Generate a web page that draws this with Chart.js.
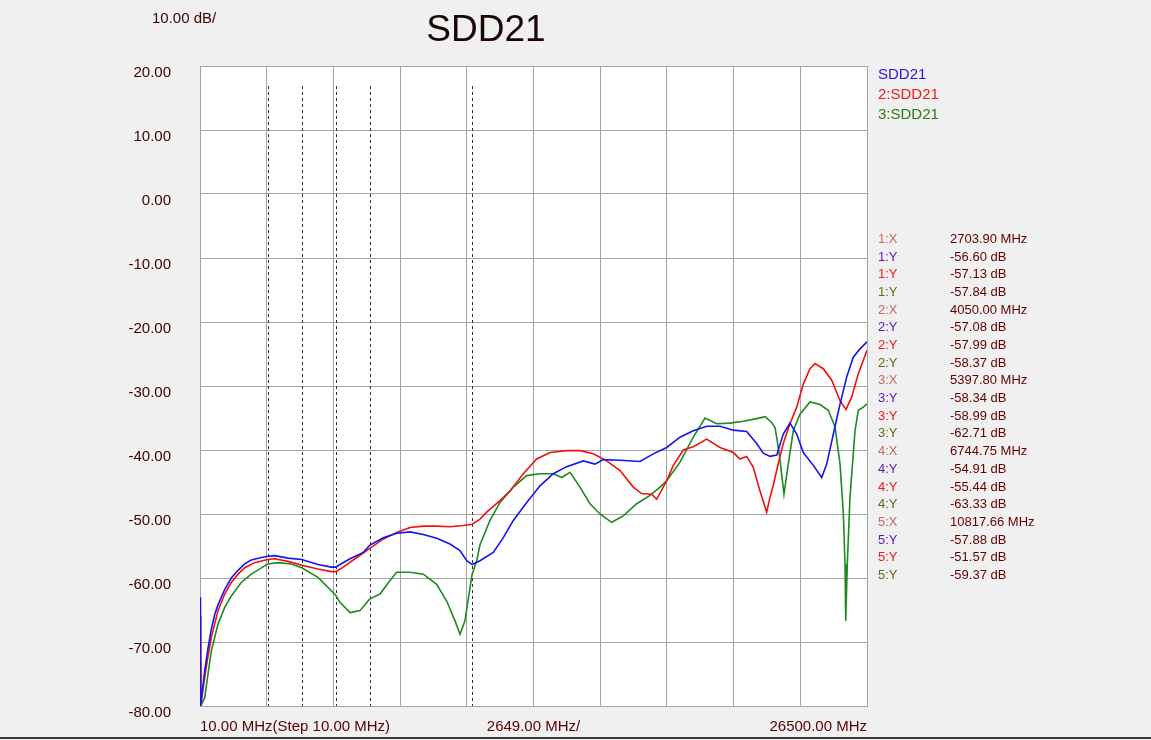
<!DOCTYPE html>
<html>
<head>
<meta charset="utf-8">
<script src="https://cdn.jsdelivr.net/npm/chart.js@4.4.1/dist/chart.umd.min.js"></script>
<style>
    body { margin: 0; background: #f0f0f0; font-family: "Liberation Sans", Arial, sans-serif; }
    #wrap { position: relative; width: 1151px; height: 740px; overflow: hidden; }
    #sddChart { position: absolute; left: 0; top: 0; }
    .txt { position: absolute; white-space: nowrap; transform: translateY(-50%); }
    #bottomLine { position: absolute; left: 0; top: 737px; width: 1151px; height: 2px; background: #3a3a3a; }
</style>
</head>
<body>
<div id="wrap">
    <canvas id="sddChart" width="1151" height="744"></canvas>
    <div class="txt" style="left:152px; top:17px; font-size:15px; color:#3c0000;">10.00 dB/</div>
    <div class="txt" style="left:486px; top:29px; font-size:37px; color:#1a0505; transform:translate(-50%,-50%);">SDD21</div>
    <div id="legend"></div>
    <div id="markerTable"></div>
    <div id="bottomLine"></div>
</div>
<script>
// x axis, MHz
const xTicks = [10, 2659, 5308, 7957, 10606, 13255, 15904, 18553, 21202, 23851, 26500];
const xTickLabels = ['10.00 MHz(Step 10.00 MHz)', '', '', '', '', '2649.00 MHz/', '', '', '', '', '26500.00 MHz'];

// SDD21 (blue)
const blueFreq = [10, 30, 197, 328, 459, 594, 725, 991, 1253, 1519, 1785, 2047, 2445, 2704, 2977, 3505, 4050, 4696, 5225, 5398,
    5570, 5967, 6496, 6745, 7290, 7822, 8350, 8878, 9411, 9939, 10336, 10602, 10818, 11130, 11658, 12056, 12453, 12985, 13513, 14041,
    14573, 15233, 15697, 16027, 16690, 17485, 18013, 18545, 19073, 19601, 20133, 20662, 21190, 21722, 22119, 22381, 22647, 22913, 23175, 23441,
    23708, 23970, 24367, 24701, 24899, 25164, 25430, 25694, 25956, 26222, 26500];
const blueDb = [-63, -80, -74.5, -71.0, -68.0, -65.7, -64.2, -61.8, -60.0, -58.8, -57.8, -57.2, -56.8, -56.6, -56.5, -56.9, -57.1, -57.9, -58.3, -58.3,
    -57.9, -57.0, -56.0, -54.9, -53.7, -53.0, -52.8, -53.2, -53.8, -54.7, -55.7, -57.3, -57.9, -57.3, -56.0, -53.7, -51.0, -48.2, -45.6, -43.7,
    -42.6, -41.7, -42.2, -41.5, -41.6, -41.8, -40.6, -39.6, -38.0, -37.0, -36.3, -36.3, -36.9, -37.1, -39.0, -40.5, -41.0, -40.8, -37.5, -35.8,
    -37.5, -40.4, -42.4, -44.3, -42.2, -37.5, -32.8, -28.6, -25.5, -24.2, -23.1];

// 2:SDD21 (red)
const redFreq = [10, 40, 197, 328, 459, 725, 991, 1253, 1519, 1785, 2180, 2704, 2977, 3505, 4050, 4696, 5225, 5398, 5701, 6233,
    6745, 7290, 7822, 8350, 8878, 9411, 9939, 10467, 10818, 11130, 11396, 11925, 12322, 12850, 13382, 13910, 14573, 15102, 15630, 16162,
    16690, 17218, 17552, 17949, 18148, 18545, 18807, 19204, 19601, 20133, 20662, 21190, 21456, 21722, 21984, 22250, 22516, 22647, 22778, 22913,
    23044, 23175, 23441, 23708, 23970, 24236, 24435, 24764, 25098, 25430, 25667, 25892, 26155, 26500];
const redDb = [-66, -80, -75.5, -72.2, -69.3, -65.1, -62.5, -60.7, -59.4, -58.4, -57.6, -57.1, -57.0, -57.4, -58.0, -58.6, -59.0, -59.0, -58.3, -56.8,
    -55.4, -53.9, -52.9, -52.1, -51.9, -51.9, -52.0, -51.8, -51.6, -50.8, -49.7, -47.9, -46.4, -43.7, -41.4, -40.4, -40.1, -40.1, -40.6, -41.7,
    -43.2, -45.8, -46.8, -46.9, -47.7, -44.8, -42.4, -40.0, -39.5, -38.3, -39.6, -40.4, -41.4, -41.0, -42.7, -46.4, -49.7, -47.4, -45.5, -43.2,
    -41.0, -39.0, -35.9, -33.3, -29.7, -27.3, -26.5, -27.3, -29.1, -32.3, -33.7, -31.7, -28.1, -24.4];

// 3:SDD21 (green)
const greenFreq = [10, 40, 197, 328, 459, 725, 991, 1253, 1650, 2047, 2580, 2704, 3108, 3636, 4050, 4696, 5225, 5398, 5570, 5967,
    6364, 6745, 7159, 7556, 7822, 8350, 8878, 9411, 9808, 10137, 10336, 10534, 10733, 10818, 10999, 11130, 11527, 11925, 12453, 12985,
    13513, 14041, 14375, 14705, 15102, 15499, 15896, 16361, 16821, 17353, 17882, 18279, 18545, 19073, 19601, 20066, 20530, 21059, 21587, 22119,
    22449, 22715, 22846, 22913, 23044, 23203, 23374, 23572, 23839, 24236, 24633, 24963, 25231, 25430, 25561, 25627, 25655, 25718, 25825, 26024,
    26155, 26353, 26500];
const greenDb = [-73, -80, -78.7, -75.0, -71.4, -67.2, -64.6, -62.8, -60.7, -59.4, -58.1, -57.8, -57.6, -57.8, -58.4, -59.9, -62.0, -62.7, -63.8, -65.4,
    -65.1, -63.3, -62.5, -60.4, -59.1, -59.1, -59.4, -61.0, -63.6, -66.7, -68.8, -66.7, -61.5, -59.4, -57.3, -54.8, -51.0, -48.2, -45.8, -44.0,
    -43.7, -43.7, -44.3, -43.5, -45.8, -48.4, -50.0, -51.3, -50.3, -48.4, -47.1, -45.8, -44.8, -41.9, -38.0, -35.0, -35.9, -35.8, -35.5, -35.1,
    -34.8, -35.7, -36.5, -38.0, -41.5, -46.9, -42.2, -37.0, -34.4, -32.5, -32.9, -33.8, -36.4, -42.2, -50.0, -57.8, -66.7, -57.8, -47.4, -37.0,
    -33.8, -33.3, -32.8];

// markers
const markerFreqs = [2703.90, 4050.00, 5397.80, 6744.75, 10817.66];
const markerBlue = [-56.60, -57.08, -58.34, -54.91, -57.88];
const markerRed = [-57.13, -57.99, -58.99, -55.44, -51.57];
const markerGreen = [-57.84, -58.37, -62.71, -63.33, -59.37];

const traceNames = ['SDD21', '2:SDD21', '3:SDD21'];
const traceColors = ['#1414f0', '#f01010', '#1e8a1e'];
const legendColors = ['#2a14e0', '#f01818', '#2e7a12'];

function toPoints(freqs, dbs) {
    return freqs.map((f, i) => ({ x: f, y: dbs[i] }));
}

// legend + marker readout on the right
function buildSideText() {
    const legend = document.getElementById('legend');
    traceNames.forEach((name, i) => {
        const d = document.createElement('div');
        d.className = 'txt';
        d.style.cssText = `left:878px; top:${73 + i * 20}px; font-size:15px; color:${legendColors[i]};`;
        d.textContent = name;
        legend.appendChild(d);
    });

    const table = document.getElementById('markerTable');
    const rows = [];
    markerFreqs.forEach((f, i) => {
        const n = i + 1;
        rows.push([`${n}:X`, '#c06a6a', `${f.toFixed(2)} MHz`]);
        rows.push([`${n}:Y`, '#5a14c8', `${markerBlue[i].toFixed(2)} dB`]);
        rows.push([`${n}:Y`, '#f01818', `${markerRed[i].toFixed(2)} dB`]);
        rows.push([`${n}:Y`, '#5e6a10', `${markerGreen[i].toFixed(2)} dB`]);
    });
    rows.forEach((r, i) => {
        const top = 238 + i * 17.68;
        const lab = document.createElement('div');
        lab.className = 'txt';
        lab.style.cssText = `left:878px; top:${top}px; font-size:13px; color:${r[1]};`;
        lab.textContent = r[0];
        const val = document.createElement('div');
        val.className = 'txt';
        val.style.cssText = `left:950px; top:${top}px; font-size:13px; color:#640000;`;
        val.textContent = r[2];
        table.appendChild(lab);
        table.appendChild(val);
    });
}

const plotBackground = {
    id: 'plotBackground',
    beforeDraw(chart) {
        const { ctx, chartArea: a } = chart;
        ctx.save();
        ctx.fillStyle = '#ffffff';
        ctx.fillRect(a.left, a.top, a.right - a.left, a.bottom - a.top);
        ctx.restore();
    }
};

const markerLines = {
    id: 'markerLines',
    beforeDatasetsDraw(chart) {
        const { ctx, chartArea: a, scales: { x } } = chart;
        ctx.save();
        ctx.strokeStyle = '#303030';
        ctx.lineWidth = 1;
        ctx.setLineDash([3, 3]);
        markerFreqs.forEach(f => {
            const px = Math.round(x.getPixelForValue(f)) + 0.5;
            ctx.beginPath();
            ctx.moveTo(px, a.top + 20);
            ctx.lineTo(px, a.bottom);
            ctx.stroke();
        });
        ctx.restore();
    }
};

function renderChart() {
    const ctx = document.getElementById('sddChart').getContext('2d');
    const series = [[blueFreq, blueDb], [redFreq, redDb], [greenFreq, greenDb]];
    new Chart(ctx, {
        type: 'line',
        data: {
            datasets: series.map((s, i) => ({
                label: traceNames[i],
                data: toPoints(s[0], s[1]),
                borderColor: traceColors[i],
                borderWidth: 1.6,
                pointRadius: 0,
                tension: 0,
                fill: false
            }))
        },
        options: {
            responsive: false,
            animation: false,
            devicePixelRatio: 1,
            layout: { padding: { top: 66, right: 284, bottom: 0, left: 0 } },
            plugins: {
                legend: { display: false },
                tooltip: { enabled: false }
            },
            scales: {
                x: {
                    type: 'linear',
                    min: 10,
                    max: 26500,
                    afterBuildTicks: scale => { scale.ticks = xTicks.map(v => ({ value: v })); },
                    afterFit: scale => { scale.height = 31; },
                    grid: { color: '#a4a4a4', lineWidth: 1, drawTicks: false },
                    border: { color: '#a4a4a4' },
                    ticks: {
                        autoSkip: false,
                        maxRotation: 0,
                        align: 'inner',
                        padding: 12,
                        color: '#5a0000',
                        font: { family: '"Liberation Sans", Arial, sans-serif', size: 15 },
                        callback: (v, i) => xTickLabels[i]
                    }
                },
                y: {
                    min: -80,
                    max: 20,
                    afterFit: scale => { scale.width = 200; },
                    grid: { color: '#a4a4a4', lineWidth: 1, drawTicks: false },
                    border: { color: '#a4a4a4' },
                    ticks: {
                        stepSize: 10,
                        padding: 29,
                        labelOffset: 7,
                        color: '#3c0000',
                        font: { family: '"Liberation Sans", Arial, sans-serif', size: 15 },
                        callback: v => v.toFixed(2)
                    }
                }
            }
        },
        plugins: [plotBackground, markerLines]
    });
}

document.addEventListener('DOMContentLoaded', () => {
    buildSideText();
    renderChart();
});
</script>
</body>
</html>
